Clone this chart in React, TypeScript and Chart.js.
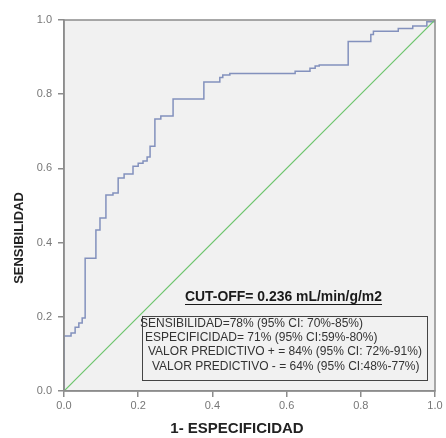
import React, { useEffect, useRef } from "react";
import { Chart, registerables } from "chart.js";

Chart.register(...registerables);

// ROC curve corner points (1 - specificity, sensitivity)
const rocFpr = [0, 0, 0.019, 0.030, 0.040, 0.049, 0.057, 0.086, 0.097, 0.113, 0.132, 0.146, 0.162, 0.186, 0.200, 0.213, 0.224, 0.232, 0.245, 0.261, 0.294, 0.377, 0.420, 0.428, 0.447, 0.623, 0.663, 0.677, 0.688, 0.766, 0.827, 0.834, 0.901, 0.940, 0.978, 1.0];
const rocTpr = [0, 0.148, 0.156, 0.172, 0.183, 0.197, 0.358, 0.434, 0.466, 0.528, 0.534, 0.574, 0.585, 0.606, 0.614, 0.620, 0.631, 0.660, 0.733, 0.741, 0.787, 0.833, 0.845, 0.852, 0.856, 0.862, 0.870, 0.876, 0.879, 0.942, 0.961, 0.970, 0.977, 0.984, 0.995, 1.0];

// Reference (chance) line
const refX = [0, 1];
const refY = [0, 1];

const tickValues = [0, 0.2, 0.4, 0.6, 0.8, 1.0];

const xTitle = "1- ESPECIFICIDAD";
const yTitle = "SENSIBILIDAD";
const cutoffText = "CUT-OFF= 0.236 mL/min/g/m2";
const statLines = [
  "SENSIBILIDAD=78% (95% CI: 70%-85%)",
  "ESPECIFICIDAD= 71% (95% CI:59%-80%)",
  "VALOR PREDICTIVO + = 84% (95% CI: 72%-91%)",
  "VALOR PREDICTIVO - = 64% (95% CI:48%-77%)",
];

const FONT = "'Liberation Sans', Arial, sans-serif";

const decorPlugin = {
  id: "decor",
  beforeDraw(chart: any) {
    const { ctx, chartArea: a } = chart;
    ctx.save();
    ctx.fillStyle = "#ffffff";
    ctx.fillRect(0, 0, chart.width, chart.height);
    ctx.fillStyle = "#f1f1f1";
    ctx.fillRect(a.left, a.top, a.right - a.left, a.bottom - a.top);
    ctx.restore();
  },
  afterDraw(chart: any) {
    const { ctx, chartArea: a } = chart;
    ctx.save();
    // frame
    ctx.strokeStyle = "#8c8c8c";
    ctx.lineWidth = 1.5;
    ctx.strokeRect(a.left, a.top, a.right - a.left, a.bottom - a.top);

    // axis titles
    ctx.fillStyle = "#222";
    ctx.font = `bold 15px ${FONT}`;
    ctx.textAlign = "center";
    ctx.textBaseline = "middle";
    ctx.fillText(xTitle, 237, 429);
    ctx.save();
    ctx.translate(19, 238);
    ctx.rotate(-Math.PI / 2);
    ctx.font = `bold 13px ${FONT}`;
    ctx.fillText(yTitle, 0, 0);
    ctx.restore();

    // cut-off annotation
    ctx.font = `bold 14px ${FONT}`;
    ctx.textAlign = "left";
    ctx.textBaseline = "alphabetic";
    ctx.fillStyle = "#1a1a1a";
    ctx.fillText(cutoffText, 185, 301, 197);
    const w = Math.min(ctx.measureText(cutoffText).width, 197);
    ctx.strokeStyle = "#1a1a1a";
    ctx.lineWidth = 1;
    ctx.beginPath();
    ctx.moveTo(185, 304.5);
    ctx.lineTo(185 + w, 304.5);
    ctx.stroke();

    // stats box
    ctx.strokeStyle = "#444";
    ctx.lineWidth = 1;
    ctx.strokeRect(142.5, 316.5, 285, 64);
    ctx.font = `12px ${FONT}`;
    ctx.fillStyle = "#333";
    ctx.textBaseline = "middle";
    const xs = [140, 145, 148, 152];
    const ws = [223, 238, 275, 268];
    const ys = [324, 338, 352, 367];
    statLines.forEach((t, i) => ctx.fillText(t, xs[i], ys[i], ws[i]));
    ctx.restore();
  },
};

export default function App() {
  const ref = useRef<HTMLCanvasElement>(null);
  useEffect(() => {
    if (!ref.current) return;
    const tickFont = { family: FONT, size: 11 };
    const chart = new Chart(ref.current, {
      type: "scatter",
      data: {
        datasets: [
          {
            label: "Referencia",
            data: refX.map((x, i) => ({ x, y: refY[i] })),
            showLine: true,
            borderColor: "#6cc46c",
            borderWidth: 1.2,
            pointRadius: 0,
          },
          {
            label: "ROC",
            data: rocFpr.map((x, i) => ({ x, y: rocTpr[i] })),
            showLine: true,
            stepped: "before",
            borderColor: "#8391bd",
            borderWidth: 1.5,
            pointRadius: 0,
          },
        ],
      },
      options: {
        responsive: false,
        animation: false,
        devicePixelRatio: 1,
        layout: { padding: { top: 20, right: 11, left: 0, bottom: 0 } },
        plugins: { legend: { display: false }, tooltip: { enabled: false } },
        scales: {
          x: {
            type: "linear",
            min: 0,
            max: 1,
            afterBuildTicks: (s: any) => {
              s.ticks = tickValues.map((v) => ({ value: v }));
            },
            ticks: {
              callback: (v: any) => Number(v).toFixed(1),
              font: tickFont,
              color: "#777",
              padding: 2,
              maxRotation: 0,
            },
            grid: { drawOnChartArea: false, tickLength: 6, color: "#8c8c8c", lineWidth: 1.5 },
            border: { display: true, color: "#8c8c8c", width: 1.5 },
            afterFit: (s: any) => {
              s.height = 47;
            },
          },
          y: {
            type: "linear",
            min: 0,
            max: 1,
            afterBuildTicks: (s: any) => {
              s.ticks = tickValues.map((v) => ({ value: v }));
            },
            ticks: {
              callback: (v: any) => Number(v).toFixed(1),
              font: tickFont,
              color: "#777",
              padding: 6,
            },
            grid: { drawOnChartArea: false, tickLength: 6, color: "#8c8c8c", lineWidth: 1.5 },
            border: { display: true, color: "#8c8c8c", width: 1.5 },
            afterFit: (s: any) => {
              s.width = 64;
            },
          },
        },
      },
      plugins: [decorPlugin],
    } as any);
    return () => chart.destroy();
  }, []);
  return (
    <div style={{ position: "fixed", left: 0, top: 0, width: 446, height: 438, background: "#fff" }}>
      <canvas ref={ref} width={446} height={438} style={{ width: 446, height: 438 }} />
    </div>
  );
}
